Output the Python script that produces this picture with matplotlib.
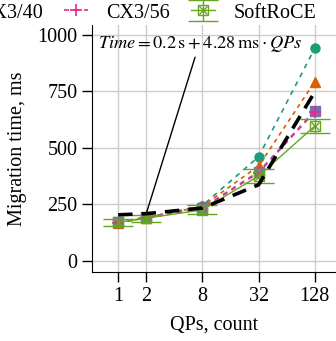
import matplotlib
matplotlib.use("Agg")
import matplotlib.pyplot as plt
from matplotlib.legend_handler import HandlerTuple

plt.rcParams['font.family'] = ['Liberation Serif', 'DejaVu Serif']
plt.rcParams['mathtext.fontset'] = 'stix'

qps = [1, 2, 8, 32, 128]
cx5 = [172, 192, 245, 461, 941]
cx4 = [170, 190, 242, 420, 793]
cx3_40 = [172, 194, 235, 395, 665]
cx3_56 = [168, 190, 232, 390, 660]
softroce = [171, 189, 226, 376, 597]
softroce_err = [15, 15, 20, 30, 33]
fit = [204, 209, 234, 337, 748]

xticks = [1, 2, 8, 32, 128]
yticks = [0, 250, 500, 750, 1000]

fig = plt.figure(figsize=(3.36, 3.41), dpi=100)
ax = fig.add_axes([92/336, 69/341, 245/336, 247/341])

ax.plot(qps, cx5, '--', color='#1b9e77', lw=1.2, marker='o', ms=6.5, dashes=(3, 3))
ax.plot(qps, cx4, '--', color='#d95f02', lw=1.2, marker='^', ms=7.5, dashes=(2.5, 2.5))
l_p, = ax.plot(qps, cx3_40, '--', color='#7570b3', lw=1.2, marker='s', ms=6.5, dashes=(3, 3))
l_k, = ax.plot(qps, cx3_56, '--', color='#e7298a', lw=1.2, marker='+', ms=9, mew=1.2, dashes=(3, 3))
eb = ax.errorbar(qps, softroce, yerr=softroce_err, color='#66a61e', lw=1.0, capsize=11,
                 marker='s', ms=7, mfc='none', mew=1.0)
l_x, = ax.plot(qps, softroce, ls='none', marker='x', ms=6, color='#66a61e', mew=1.0)
ax.plot(qps, fit, '--', color='black', lw=2.6, dashes=(4, 2.5), zorder=5)

ax.annotate(r'$Time = 0.2\,\mathrm{s} + 4.28\,\mathrm{ms}\cdot QPs$', xy=(2, 209),
            xytext=(0.615, 958), fontsize=13.2, va='center', ha='left',
            arrowprops=dict(arrowstyle='-', color='black', lw=1.0, shrinkA=0, shrinkB=0,
                            relpos=(0.48, 0.1)))

ax.set_xscale('log', base=2)
ax.set_xlim(2**-0.93, 2**7.79)
ax.set_ylim(-49, 1044)
ax.set_xticks(xticks)
ax.set_xticklabels([str(t) for t in xticks])
ax.minorticks_off()
ax.set_yticks(yticks)
ax.tick_params(labelsize=14.5, direction='out', length=7, width=1)
ax.grid(True, color='#cccccc', lw=1)
ax.set_axisbelow(True)
for s in ['top', 'right']:
    ax.spines[s].set_visible(False)
ax.set_xlabel('QPs, count', fontsize=14.5, labelpad=7.5)
ax.set_ylabel('Migration time, ms', fontsize=14.5, labelpad=7.5)

fig.legend([l_p, l_k, (eb, l_x)], ['CX3/40', 'CX3/56', 'SoftRoCE'],
           ncol=3, frameon=False, fontsize=14.5, loc='center right',
           bbox_to_anchor=(328/336, 1 - 13/341), handlelength=1.2,
           columnspacing=1.05, handletextpad=0.9, borderpad=0.1,
           handler_map={tuple: HandlerTuple(ndivide=1)})

fig.savefig('out.png', dpi=100)
